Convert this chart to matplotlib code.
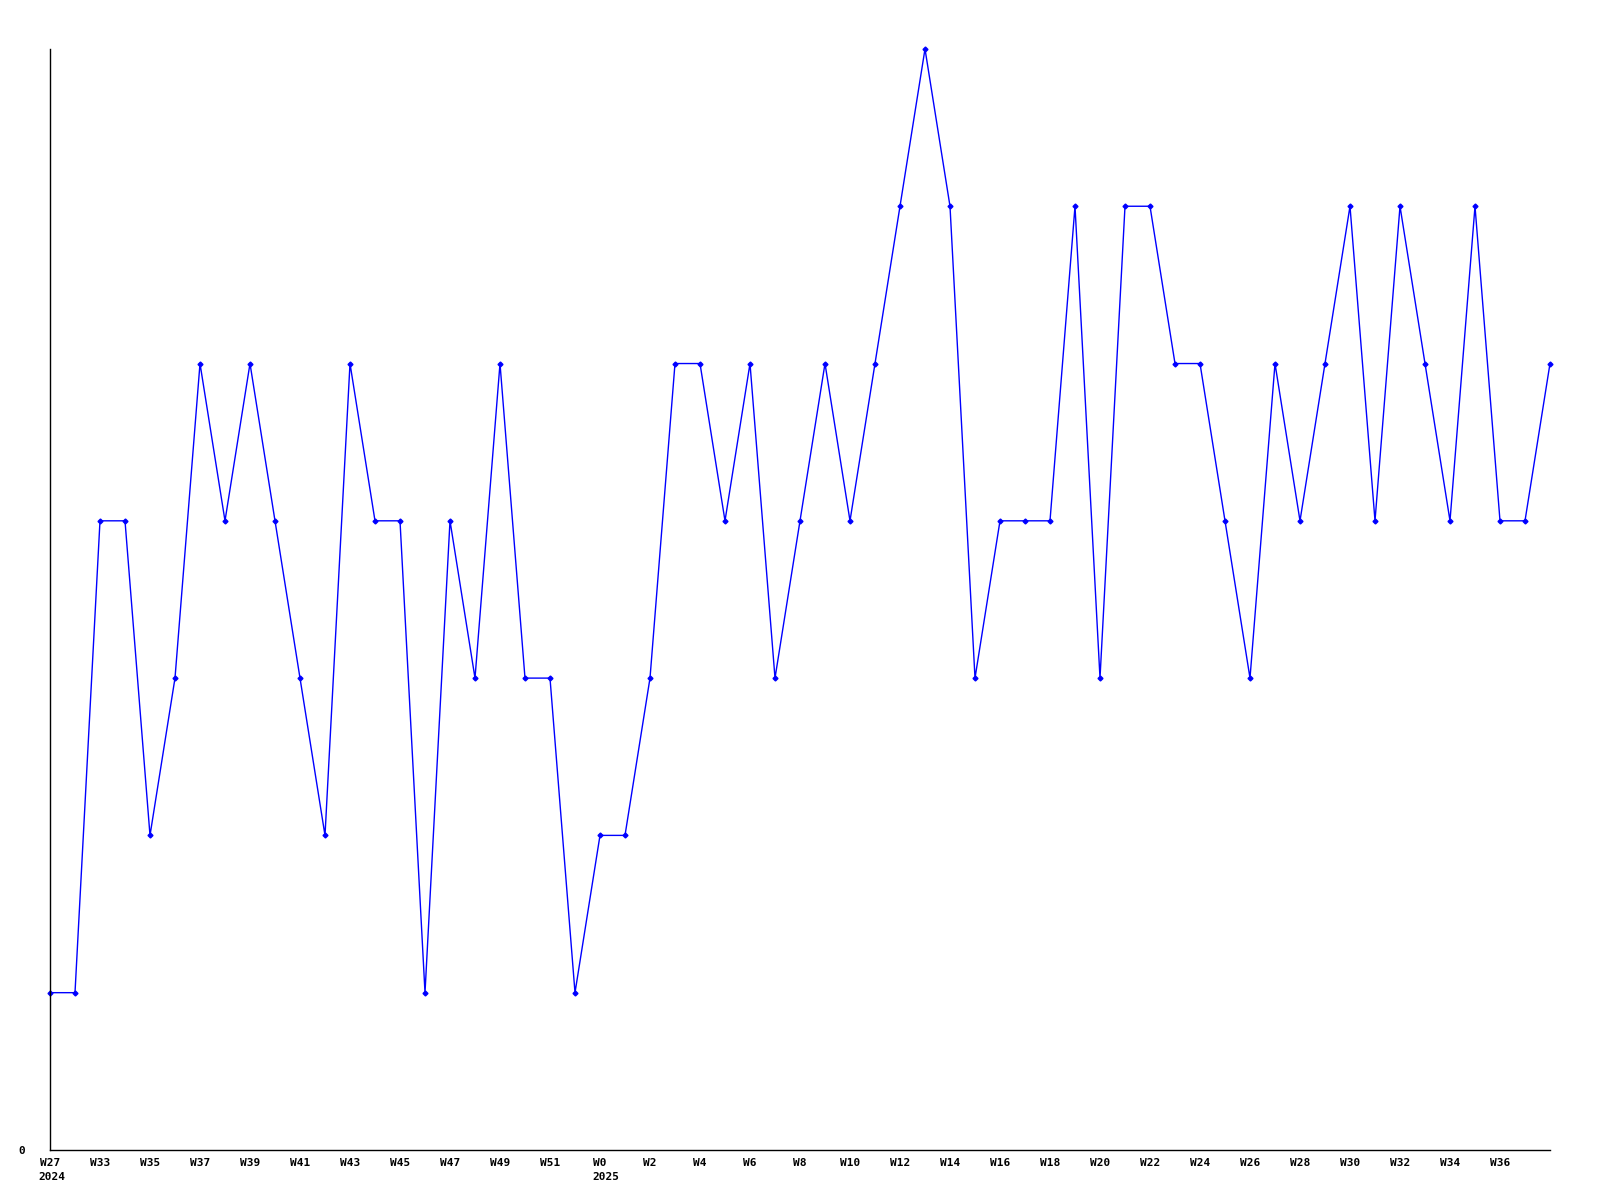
import numpy as np
import matplotlib.pyplot as plt

# weekly values, W27 2024 .. W38 2025
values = [1, 1, 4, 4, 2, 3, 5, 4, 5, 4,
          3, 2, 5, 4, 4, 1, 4, 3, 5, 3,
          3, 1, 2, 2, 3, 5, 5, 4, 5, 3,
          4, 5, 4, 5, 6, 7, 6, 3, 4, 4,
          4, 6, 3, 6, 6, 5, 5, 4, 3, 5,
          4, 5, 6, 4, 6, 5, 4, 6, 4, 4,
          5]

tick_pos = [0, 2, 4, 6, 8, 10, 12, 14, 16, 18, 20,
            22, 24, 26, 28, 30, 32, 34, 36, 38, 40,
            42, 44, 46, 48, 50, 52, 54, 56, 58]
tick_labels = ['W27', 'W33', 'W35', 'W37', 'W39', 'W41', 'W43', 'W45',
               'W47', 'W49', 'W51', 'W0', 'W2', 'W4', 'W6', 'W8', 'W10',
               'W12', 'W14', 'W16', 'W18', 'W20', 'W22', 'W24', 'W26', 'W28',
               'W30', 'W32', 'W34', 'W36']
year_pos = [0, 22]
year_labels = ['2024', '2025']

fig = plt.figure(figsize=(16, 12), dpi=100)
ax = fig.add_axes([0.03125, 0.0417, 0.9375, 0.9175])

x = np.arange(len(values))
ax.plot(x, values, color='#0000ff', linewidth=1.0, marker='D',
        markersize=2.5, clip_on=False)

ax.set_xlim(0, len(values) - 1)
ax.set_ylim(0, 7)

for s in ['top', 'right']:
    ax.spines[s].set_visible(False)
for s in ['left', 'bottom']:
    ax.spines[s].set_linewidth(1.0)
    ax.spines[s].set_color('black')

font = dict(family='DejaVu Sans Mono', fontweight='bold', fontsize=8)
ax.set_xticks(tick_pos)
ax.set_xticklabels(tick_labels, **font)
ax.set_yticks([0])
ax.set_yticklabels(['0'], **font)
ax.tick_params(axis='x', length=0, pad=6)
ax.tick_params(axis='y', length=0, pad=18)

# year under the week label, left edges lined up
cw = 0.602 * 8  # char width in points
for p, yl in zip(year_pos, year_labels):
    wl = tick_labels[tick_pos.index(p)]
    left = -len(wl) * cw / 2 - 1
    ax.annotate(yl, xy=(p, 0), xycoords=('data', 'axes fraction'),
                xytext=(left, -16), textcoords='offset points',
                ha='left', va='top', annotation_clip=False, **font)

fig.savefig('out.png', dpi=100, facecolor='white')
